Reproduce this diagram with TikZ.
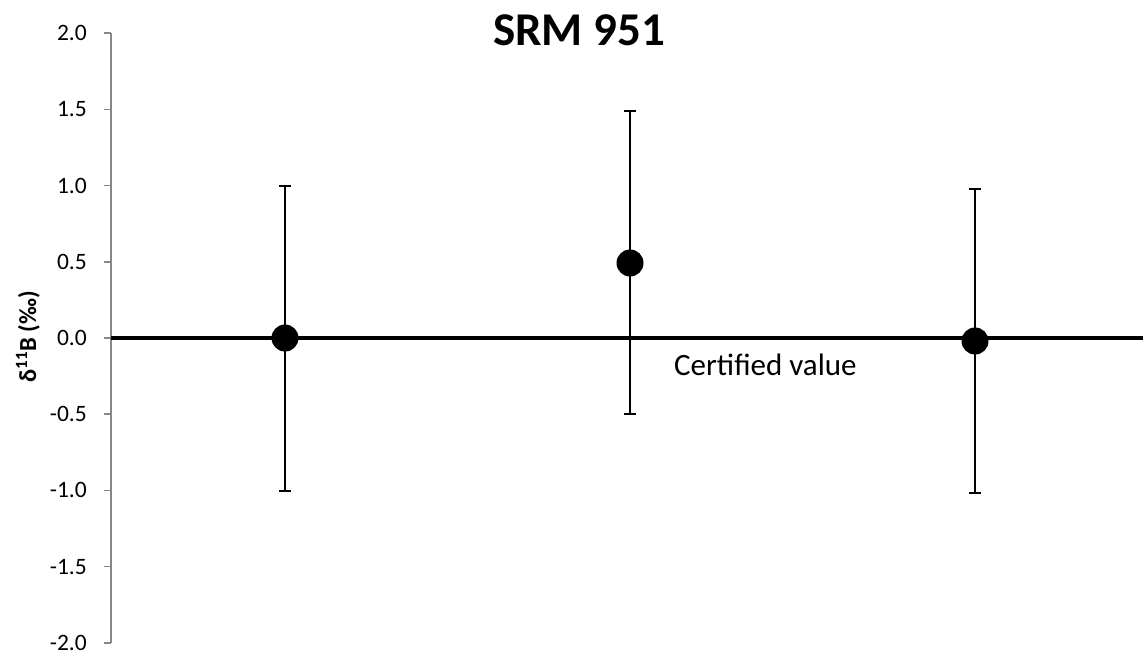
\documentclass[tikz,border=0pt]{standalone}
\usepackage{fontspec}
\setmainfont{Carlito}
\begin{document}
\begin{tikzpicture}[x=1pt,y=-1pt,
  axisline/.style={draw=black!47,line width=1.5pt},
  ticklab/.style={anchor=east,inner sep=0pt,font=\fontsize{23.5}{28}\selectfont},
  errbar/.style={draw=black,line width=1.6pt},
  marker/.style={circle,fill=black,minimum size=27pt,inner sep=0pt},
  refline/.style={draw=black,line width=4.5pt}]
\useasboundingbox (0,0) rectangle (1143,652);
% axis
\draw[axisline] (111,33) -- (111,643);
\foreach \v/\lab in {2/2.0,1.5/1.5,1/1.0,0.5/0.5,0/0.0,-0.5/-0.5,-1/-1.0,-1.5/-1.5,-2/-2.0}{
  \pgfmathsetmacro{\yy}{338-152.4*\v}
  \draw[axisline] (104,\yy) -- (111,\yy);
  \node[ticklab] at (87,\yy) {\lab};
}
% certified value line
\coordinate (l0) at (111,338);
\coordinate (l1) at (1143,338);
\draw[refline] (l0) -- (l1);
% error bars
\foreach \n/\x/\t/\b in {1/285/186/491, 2/630/111/414, 3/975/189/493}{
  \coordinate (t\n) at (\x,\t);
  \coordinate (b\n) at (\x,\b);
  \draw[errbar] (t\n) -- (b\n);
  \draw[errbar] ([xshift=-6pt]t\n) -- ([xshift=6pt]t\n);
  \draw[errbar] ([xshift=-6pt]b\n) -- ([xshift=6pt]b\n);
}
\node[marker] (p1) at (285,338) {};
\node[marker] (p2) at (630,263) {};
\node[marker] (p3) at (975,341) {};
% labels
\node[anchor=west,inner sep=0pt,font=\fontsize{31}{37}\selectfont] (cv) at (674,365) {Certified value};
\node[font=\fontsize{47}{56}\selectfont\bfseries,inner sep=0pt] (title) at (579,30) {SRM 951};
\node[rotate=90,font=\fontsize{24.5}{29}\selectfont\bfseries,inner sep=0pt] (ylab) at (28,337) {δ\textsuperscript{11}B (‰)};
\end{tikzpicture}
\end{document}
